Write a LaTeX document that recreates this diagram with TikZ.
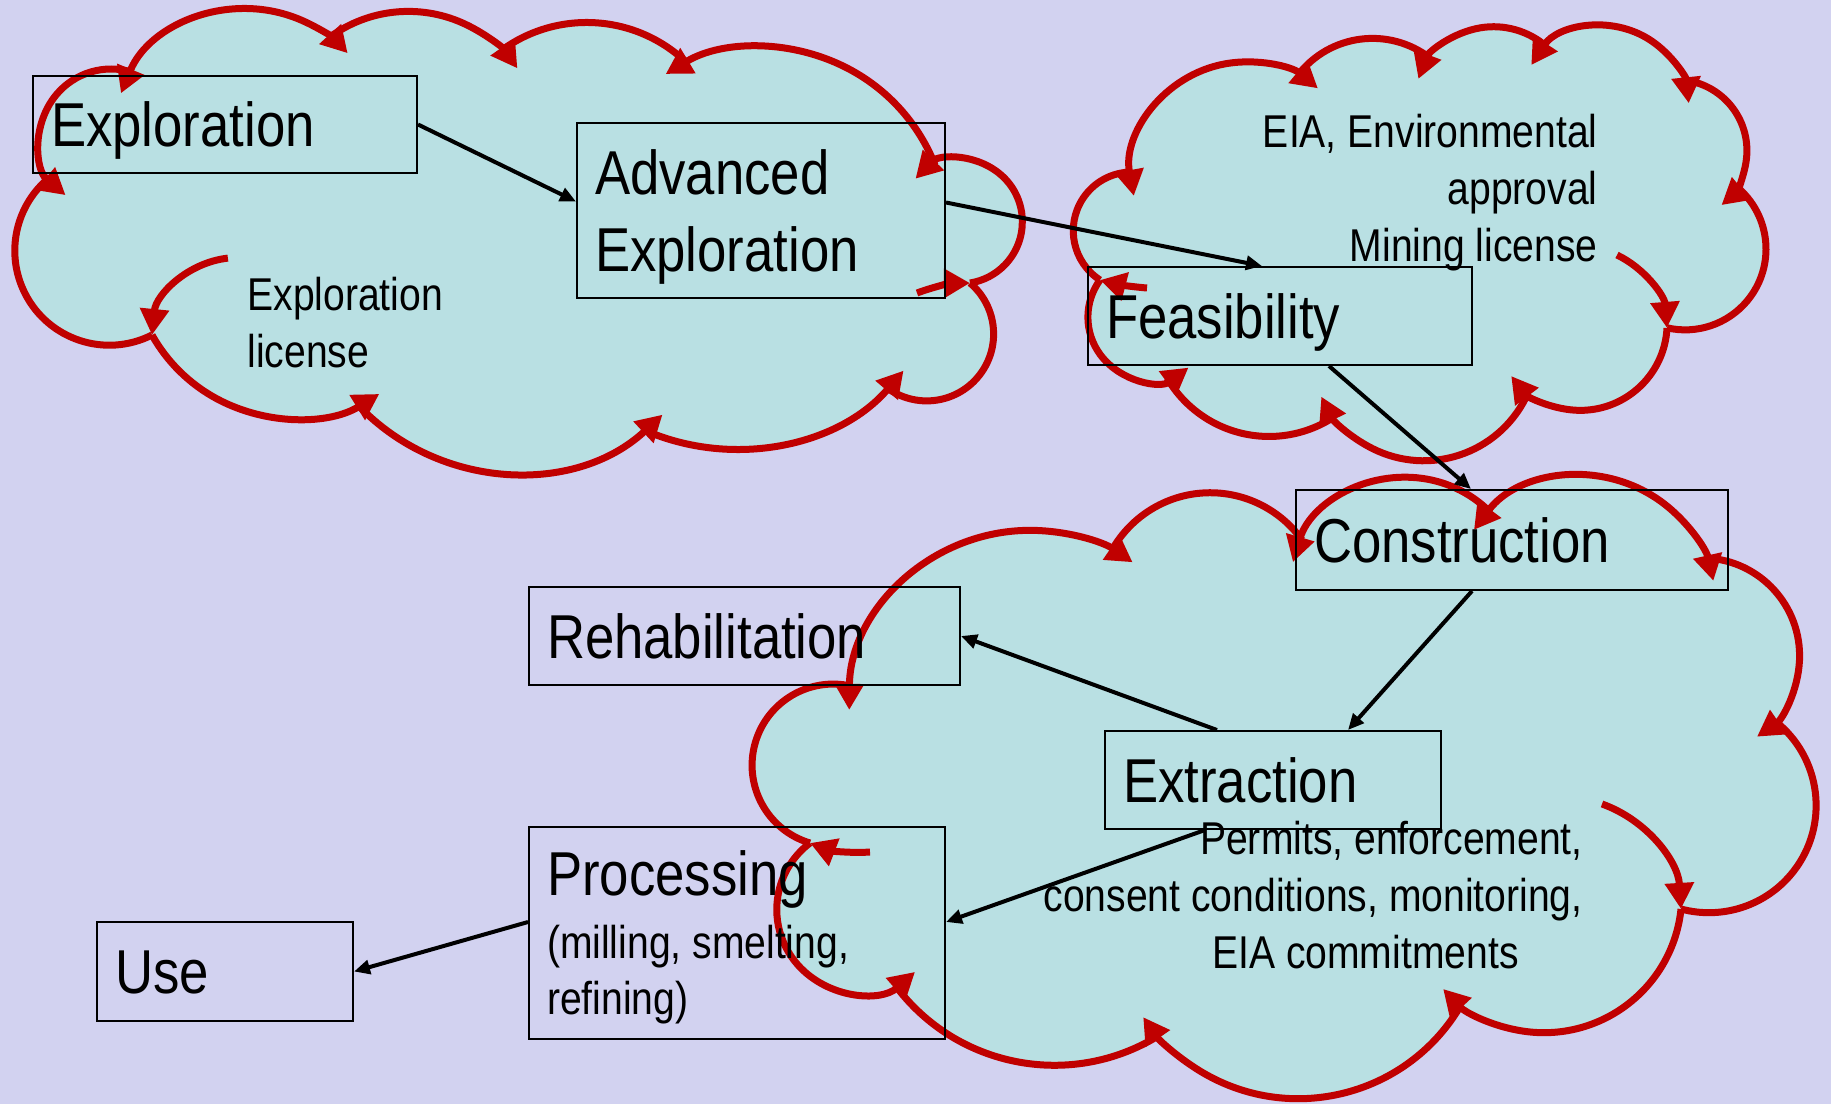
\documentclass[tikz,border=0pt]{standalone}
\usepackage{fontspec}
\setmainfont{Liberation Sans}[FakeStretch=0.85]
\usetikzlibrary{arrows.meta,calc}

\definecolor{bgcol}{RGB}{210,210,240}
\definecolor{cloudcol}{RGB}{185,224,227}
\definecolor{arcred}{RGB}{192,0,0}

\frenchspacing
\newcommand\stagefont{\fontsize{31}{38.5}\selectfont}
\newcommand\notefont{\fontsize{23}{28.5}\selectfont}

% one bump of a cloud, from #1 to #2, bulging outwards, sweep #3 degrees
\newcommand\cloudarc[3]{let \p1=(#1), \p2=(#2),
  \n1={atan2(\y2-\y1,\x2-\x1)},
  \n2={veclen(\x2-\x1,\y2-\y1)/(2*sin(#3/2))}
  in arc[start angle=\n1+90+#3/2, end angle=\n1+90-#3/2, radius=\n2]}
% same bump as an outline, running on past its ends by #4 and #5 (pt)
\newcommand\cloudedge[5]{let \p1=(#1), \p2=(#2),
  \n1={atan2(\y2-\y1,\x2-\x1)+90+#3/2},
  \n2={veclen(\x2-\x1,\y2-\y1)/(2*sin(#3/2))},
  \n3={#4/\n2*180/pi}, \n4={#5/\n2*180/pi}
  in ($(#1)+(\n1+180:\n2)+(\n1+\n3:\n2)$)
     arc[start angle=\n1+\n3, end angle=\n1-#3-\n4, radius=\n2]}

% bumps: from/to/sweep/tips/run-on at start/run-on at end
\newcommand\cloudA{a1/a2/95/tipboth/12/12, a2/a3/81/tipend/0/12, a3/a4/80/notip/0/0,
  a4/a5/92/tipstart/12/0, a5/a6/195/tipstart/12/0, a6/a7/176/notip/0/0,
  a7/a8/67/tipstart/12/0, a8/a9/83/tipstart/12/0, a9/a10/84/tipstart/12/0,
  a10/a11/168/notip/0/0, a11/a1/138/tipstart/12/0}
\newcommand\cloudB{b1/b2/116/tipboth/12/12, b2/b3/90/notip/0/0, b3/b4/94/tipstart/12/0,
  b4/b5/109/tipboth/12/12, b5/b6/115/tipend/0/12, b6/b7/153/notip/0/0,
  b7/b8/124/tipend/0/12, b8/b9/118/tipend/0/12, b9/b10/93/notip/0/0,
  b10/b11/141/tipstart/12/0, b11/b1/147/notip/0/0}
\newcommand\cloudC{c1/c2/109/tipboth/12/12, c2/c3/115/notip/0/0, c3/c4/107/tipstart/12/0,
  c4/c5/110/tipboth/12/12, c5/c6/129/tipend/0/12, c6/c7/157/notip/0/0,
  c7/c8/121/tipend/0/12, c8/c9/108/tipend/0/12, c9/c10/85/notip/0/0,
  c10/c11/168/tipstart/12/0, c11/c1/176/notip/0/0}
% inner arcs
\newcommand\cloudIn{a10/a12/78/tipstart/0/0, a13/a6/20/tipend/0/0, b12/b7/60/tipend/0/0,
  b13/b11/10/tipend/0/0, c12/c7/67/tipend/0/0, c13/c11/25/tipend/0/0}

\begin{document}
\begin{tikzpicture}[x=0.5pt, y=-0.5pt,
    cloudfill/.style={fill=cloudcol},
    cloudline/.style={draw=arcred, line width=3.5pt},
    tipend/.style={-{Triangle[length=13pt,width=14pt]}},
    tipstart/.style={{Triangle[length=13pt,width=14pt]}-},
    tipboth/.style={{Triangle[length=13pt,width=14pt]}-{Triangle[length=13pt,width=14pt]}},
    notip/.style={},
    stagebox/.style={draw, line width=1pt, align=flush left, inner xsep=9pt, inner ysep=0pt, font=\stagefont, text height=22pt},
    oneline/.style={text depth=0pt},
    note/.style={align=flush left, inner sep=0pt, font=\notefont},
    flow/.style={-{Triangle[length=8pt,width=7pt]}, line width=2pt}]
  \useasboundingbox (0,0) rectangle (1831,1104);
  \fill[bgcol] (0,0) rectangle (1831,1104);

  % cloud junctions
  \coordinate (a1) at (132,72);   \coordinate (a2) at (330,37);
  \coordinate (a3) at (502,50);   \coordinate (a4) at (687,63);
  \coordinate (a5) at (935,165);  \coordinate (a6) at (970,283);
  \coordinate (a7) at (887,388);  \coordinate (a8) at (644,430);
  \coordinate (a9) at (358,405);  \coordinate (a10) at (152,335);
  \coordinate (a11) at (50,177);  \coordinate (a12) at (228,258);
  \coordinate (a13) at (917,293);

  \coordinate (b1) at (1132,172); \coordinate (b2) at (1298,75);
  \coordinate (b3) at (1430,58);  \coordinate (b4) at (1547,47);
  \coordinate (b5) at (1683,80);  \coordinate (b6) at (1737,187);
  \coordinate (b7) at (1667,328); \coordinate (b8) at (1528,393);
  \coordinate (b9) at (1334,417); \coordinate (b10) at (1167,378);
  \coordinate (b11) at (1100,280); \coordinate (b12) at (1617,255);
  \coordinate (b13) at (1147,288);

  \coordinate (c1) at (851,686);  \coordinate (c2) at (1112,550);
  \coordinate (c3) at (1302,540); \coordinate (c4) at (1490,512);
  \coordinate (c5) at (1706,558); \coordinate (c6) at (1775,721);
  \coordinate (c7) at (1681,909); \coordinate (c8) at (1461,1005);
  \coordinate (c9) at (1158,1036); \coordinate (c10) at (895,985);
  \coordinate (c11) at (810,843); \coordinate (c12) at (1602,804);
  \coordinate (c13) at (870,852);

  % clouds
  \fill[cloudfill] (a1) \foreach \ja/\jb/\sw/\tp/\es/\ee in \cloudA {\cloudarc{\ja}{\jb}{\sw}} -- cycle;
  \fill[cloudfill] (b1) \foreach \ja/\jb/\sw/\tp/\es/\ee in \cloudB {\cloudarc{\ja}{\jb}{\sw}} -- cycle;
  \fill[cloudfill] (c1) \foreach \ja/\jb/\sw/\tp/\es/\ee in \cloudC {\cloudarc{\ja}{\jb}{\sw}} -- cycle;
  \foreach \ja/\jb/\sw/\tp/\es/\ee in \cloudA
    \draw[cloudline,\tp] \cloudedge{\ja}{\jb}{\sw}{\es}{\ee};
  \foreach \ja/\jb/\sw/\tp/\es/\ee in \cloudB
    \draw[cloudline,\tp] \cloudedge{\ja}{\jb}{\sw}{\es}{\ee};
  \foreach \ja/\jb/\sw/\tp/\es/\ee in \cloudC
    \draw[cloudline,\tp] \cloudedge{\ja}{\jb}{\sw}{\es}{\ee};
  \foreach \ja/\jb/\sw/\tp/\es/\ee in \cloudIn
    \draw[cloudline,\tp] \cloudedge{\ja}{\jb}{\sw}{\es}{\ee};

  % stages
  \node[stagebox, oneline, text width=174pt, minimum height=48.5pt] (explo) at (225,124.5) {Exploration};
  \node[stagebox, text depth=38.5pt, text width=166pt, minimum height=87.5pt] (advexp) at (761,210.5) {Advanced\\Exploration};
  \node[stagebox, oneline, text width=174pt, minimum height=49pt] (feas) at (1280,316) {Feasibility};
  \node[stagebox, oneline, text width=198pt, minimum height=50pt] (constr) at (1512,540) {Construction};
  \node[stagebox, oneline, text width=197.5pt, minimum height=49pt] (rehab) at (744.5,636) {Rehabilitation};
  \node[stagebox, oneline, text width=150pt, minimum height=49pt] (extr) at (1273,780) {Extraction};
  \node[stagebox, text depth=59.5pt, text width=190pt, minimum height=106pt] (proc) at (737,933) {Processing\\[3pt]\notefont(milling, smelting,\\[-10.5pt]refining)};
  \node[stagebox, oneline, text width=110pt, minimum height=49.5pt] (use) at (225,971.5) {Use};

  % notes
  \node[note, anchor=north west] (explic) at (247,277) {Exploration\\license};
  \node[note, align=flush right, anchor=north east] (eia) at (1598,114) {EIA, Environmental\\approval\\Mining license};
  \node[note, align=flush right, anchor=north east] (permits) at (1583,821) {Permits, enforcement,\\consent conditions, monitoring,\\EIA commitments\hspace*{32pt}};

  % flow
  \draw[flow] (explo.east) -- ([yshift=4.5pt]advexp.west);
  \draw[flow] ([yshift=4pt]advexp.east) -- ([xshift=-9pt]feas.north);
  \draw[flow] ([xshift=24.5pt]feas.south) -- ([xshift=-20.5pt]constr.north);
  \draw[flow] ([xshift=-20pt]constr.south) -- ([xshift=37.5pt]extr.north);
  \draw[flow] ([xshift=-28pt]extr.north) -- (rehab.east);
  \draw[flow] ([xshift=-34pt]extr.south) -- ([yshift=5.5pt]proc.east);
  \draw[flow] ([yshift=5.5pt]proc.west) -- (use.east);
\end{tikzpicture}
\end{document}
